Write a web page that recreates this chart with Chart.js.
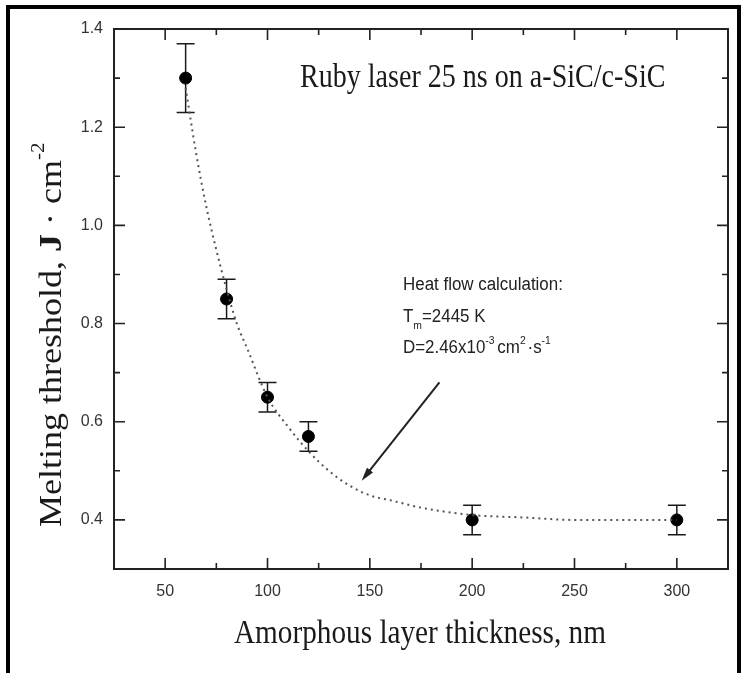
<!DOCTYPE html>
<html>
<head>
<meta charset="utf-8">
<script src="https://cdn.jsdelivr.net/npm/chart.js@4.4.1/dist/chart.umd.min.js"></script>
<style>
  html, body { margin: 0; padding: 0; background: #fff; }
  canvas { display: block; }
</style>
</head>
<body>
<canvas id="chart" width="744" height="673"></canvas>
<script>
// measured points
const thickness = [60, 80, 100, 120, 200, 300];
const threshold = [1.30, 0.85, 0.65, 0.57, 0.40, 0.40];
const errLow = [1.23, 0.81, 0.62, 0.54, 0.37, 0.37];
const errHigh = [1.37, 0.89, 0.68, 0.60, 0.43, 0.43];

// heat flow calculation curve
const fitX = [60, 65, 70, 75, 80, 85, 90, 100, 110, 120, 130, 140, 150, 160, 175, 200, 225, 250, 275, 300];
const fitY = [1.28, 1.15, 1.04, 0.95, 0.87, 0.80, 0.75, 0.65, 0.59, 0.54, 0.50, 0.47, 0.45, 0.44, 0.425, 0.41, 0.405, 0.40, 0.40, 0.40];

const xTicks = [50, 100, 150, 200, 250, 300];
const xMinor = [75, 125, 175, 225, 275];
const yTicks = [0.4, 0.6, 0.8, 1.0, 1.2, 1.4];
const yMinor = [0.5, 0.7, 0.9, 1.1, 1.3];

// arrow from the note to the curve (data coords)
const arrowFrom = [184, 0.68];
const arrowTo = [146, 0.48];

const INK = '#1a1a1a';
const SERIF = '"Liberation Serif", "Times New Roman", serif';
const SANS = '"Liberation Sans", Arial, sans-serif';

// draw a row of text pieces, with sub/superscripts, squeezed by sx
function drawRuns(ctx, x, y, runs, sx) {
    ctx.save();
    ctx.translate(x, y);
    ctx.scale(sx, 1);
    ctx.textAlign = 'left';
    ctx.textBaseline = 'alphabetic';
    let cx = 0;
    runs.forEach(r => {
        ctx.font = r.font;
        ctx.fillText(r.t, cx, r.dy || 0);
        cx += ctx.measureText(r.t).width + (r.gap || 0);
    });
    ctx.restore();
}

const figurePlugin = {
    id: 'figure',
    beforeDatasetsDraw(chart) {
        const { ctx, scales: { x, y } } = chart;
        ctx.save();
        ctx.strokeStyle = INK;
        ctx.lineWidth = 1.5;
        thickness.forEach((t, i) => {
            const px = x.getPixelForValue(t);
            const top = y.getPixelForValue(errHigh[i]);
            const bot = y.getPixelForValue(errLow[i]);
            ctx.beginPath();
            ctx.moveTo(px, top); ctx.lineTo(px, bot);
            ctx.moveTo(px - 9, top); ctx.lineTo(px + 9, top);
            ctx.moveTo(px - 9, bot); ctx.lineTo(px + 9, bot);
            ctx.stroke();
        });
        ctx.restore();
    },
    afterDraw(chart) {
        const { ctx, chartArea: a, scales: { x, y } } = chart;
        ctx.save();

        // outer black frame of the scan
        ctx.fillStyle = '#000';
        ctx.fillRect(6, 5, 734, 4);
        ctx.fillRect(6, 5, 4, 668);
        ctx.fillRect(737, 5, 4, 668);

        // plot box
        ctx.strokeStyle = '#222';
        ctx.lineWidth = 2;
        ctx.strokeRect(a.left, a.top, a.right - a.left, a.bottom - a.top);

        // inward ticks on all four sides
        ctx.lineWidth = 1.6;
        ctx.beginPath();
        const xt = (v, len) => {
            const px = x.getPixelForValue(v);
            ctx.moveTo(px, a.bottom); ctx.lineTo(px, a.bottom - len);
            ctx.moveTo(px, a.top); ctx.lineTo(px, a.top + len);
        };
        const yt = (v, len) => {
            const py = y.getPixelForValue(v);
            ctx.moveTo(a.left, py); ctx.lineTo(a.left + len, py);
            ctx.moveTo(a.right, py); ctx.lineTo(a.right - len, py);
        };
        xTicks.forEach(v => xt(v, 11));
        xMinor.forEach(v => xt(v, 6));
        yTicks.forEach(v => yt(v, 11));
        yMinor.forEach(v => yt(v, 6));
        ctx.stroke();

        ctx.fillStyle = INK;

        // title inside the plot
        drawRuns(ctx, 300, 87, [{ t: 'Ruby laser 25 ns on a-SiC/c-SiC', font: '33px ' + SERIF }], 0.85);

        // x axis title
        drawRuns(ctx, 234, 643, [{ t: 'Amorphous layer thickness, nm', font: '34px ' + SERIF }], 0.86);

        // y axis title, rotated
        ctx.save();
        ctx.translate(61, 527);
        ctx.rotate(-Math.PI / 2);
        ctx.scale(1, 0.86);
        ctx.textAlign = 'left';
        let cx = 0;
        [
            { t: 'Melting threshold, ', font: '36px ' + SERIF },
            { t: 'J', font: 'bold 36px ' + SERIF },
            { t: ' · cm', font: '36px ' + SERIF },
            { t: '-2', font: '21px ' + SERIF, dy: -20 }
        ].forEach(r => {
            ctx.font = r.font;
            ctx.fillText(r.t, cx, r.dy || 0);
            cx += ctx.measureText(r.t).width;
        });
        ctx.restore();

        // heat flow note
        ctx.fillStyle = '#222';
        drawRuns(ctx, 403, 290, [{ t: 'Heat flow calculation:', font: '18px ' + SANS }], 0.94);
        drawRuns(ctx, 403, 322, [
            { t: 'T', font: '18px ' + SANS },
            { t: 'm', font: '11px ' + SANS, dy: 7 },
            { t: '=2445 K', font: '18px ' + SANS }
        ], 0.94);
        drawRuns(ctx, 403, 353, [
            { t: 'D=2.46x10', font: '18px ' + SANS },
            { t: '-3', font: '11px ' + SANS, dy: -9, gap: 3 },
            { t: 'cm', font: '18px ' + SANS },
            { t: '2', font: '11px ' + SANS, dy: -9, gap: 2 },
            { t: '·s', font: '18px ' + SANS },
            { t: '-1', font: '11px ' + SANS, dy: -9 }
        ], 0.94);

        // arrow
        const x1 = x.getPixelForValue(arrowFrom[0]), y1 = y.getPixelForValue(arrowFrom[1]);
        const x2 = x.getPixelForValue(arrowTo[0]), y2 = y.getPixelForValue(arrowTo[1]);
        const ang = Math.atan2(y2 - y1, x2 - x1);
        ctx.strokeStyle = '#222';
        ctx.lineWidth = 2;
        ctx.beginPath();
        ctx.moveTo(x1, y1);
        ctx.lineTo(x2 - 8 * Math.cos(ang), y2 - 8 * Math.sin(ang));
        ctx.stroke();
        ctx.fillStyle = '#222';
        ctx.beginPath();
        ctx.moveTo(x2, y2);
        ctx.lineTo(x2 - 14 * Math.cos(ang - 0.28), y2 - 14 * Math.sin(ang - 0.28));
        ctx.lineTo(x2 - 14 * Math.cos(ang + 0.28), y2 - 14 * Math.sin(ang + 0.28));
        ctx.closePath();
        ctx.fill();

        ctx.restore();
    }
};

const ctx = document.getElementById('chart').getContext('2d');
new Chart(ctx, {
    type: 'scatter',
    data: {
        datasets: [
            {
                label: 'Heat flow calculation',
                data: fitX.map((v, i) => ({ x: v, y: fitY[i] })),
                showLine: true,
                borderColor: '#555',
                borderWidth: 2,
                borderDash: [2, 4],
                pointRadius: 0,
                cubicInterpolationMode: 'monotone'
            },
            {
                label: 'Measured',
                data: thickness.map((v, i) => ({ x: v, y: threshold[i] })),
                pointRadius: 6,
                pointBackgroundColor: '#000',
                pointBorderColor: '#000'
            }
        ]
    },
    options: {
        responsive: false,
        animation: false,
        layout: { padding: { top: 29, right: 16, left: 0, bottom: 0 } },
        plugins: { legend: { display: false }, tooltip: { enabled: false } },
        scales: {
            x: {
                type: 'linear',
                min: 25,
                max: 325,
                afterBuildTicks: s => { s.ticks = xTicks.map(v => ({ value: v })); },
                afterFit: s => { s.height = 104; },
                grid: { display: false, drawTicks: false },
                border: { display: false },
                ticks: { color: '#333', padding: 13, font: { family: SANS, size: 16 } }
            },
            y: {
                type: 'linear',
                min: 0.3,
                max: 1.4,
                afterBuildTicks: s => { s.ticks = yTicks.map(v => ({ value: v })); },
                afterFit: s => { s.width = 114; },
                grid: { display: false, drawTicks: false },
                border: { display: false },
                ticks: {
                    color: '#333',
                    padding: 11,
                    font: { family: SANS, size: 16 },
                    callback: v => v.toFixed(1)
                }
            }
        }
    },
    plugins: [figurePlugin]
});
</script>
</body>
</html>
